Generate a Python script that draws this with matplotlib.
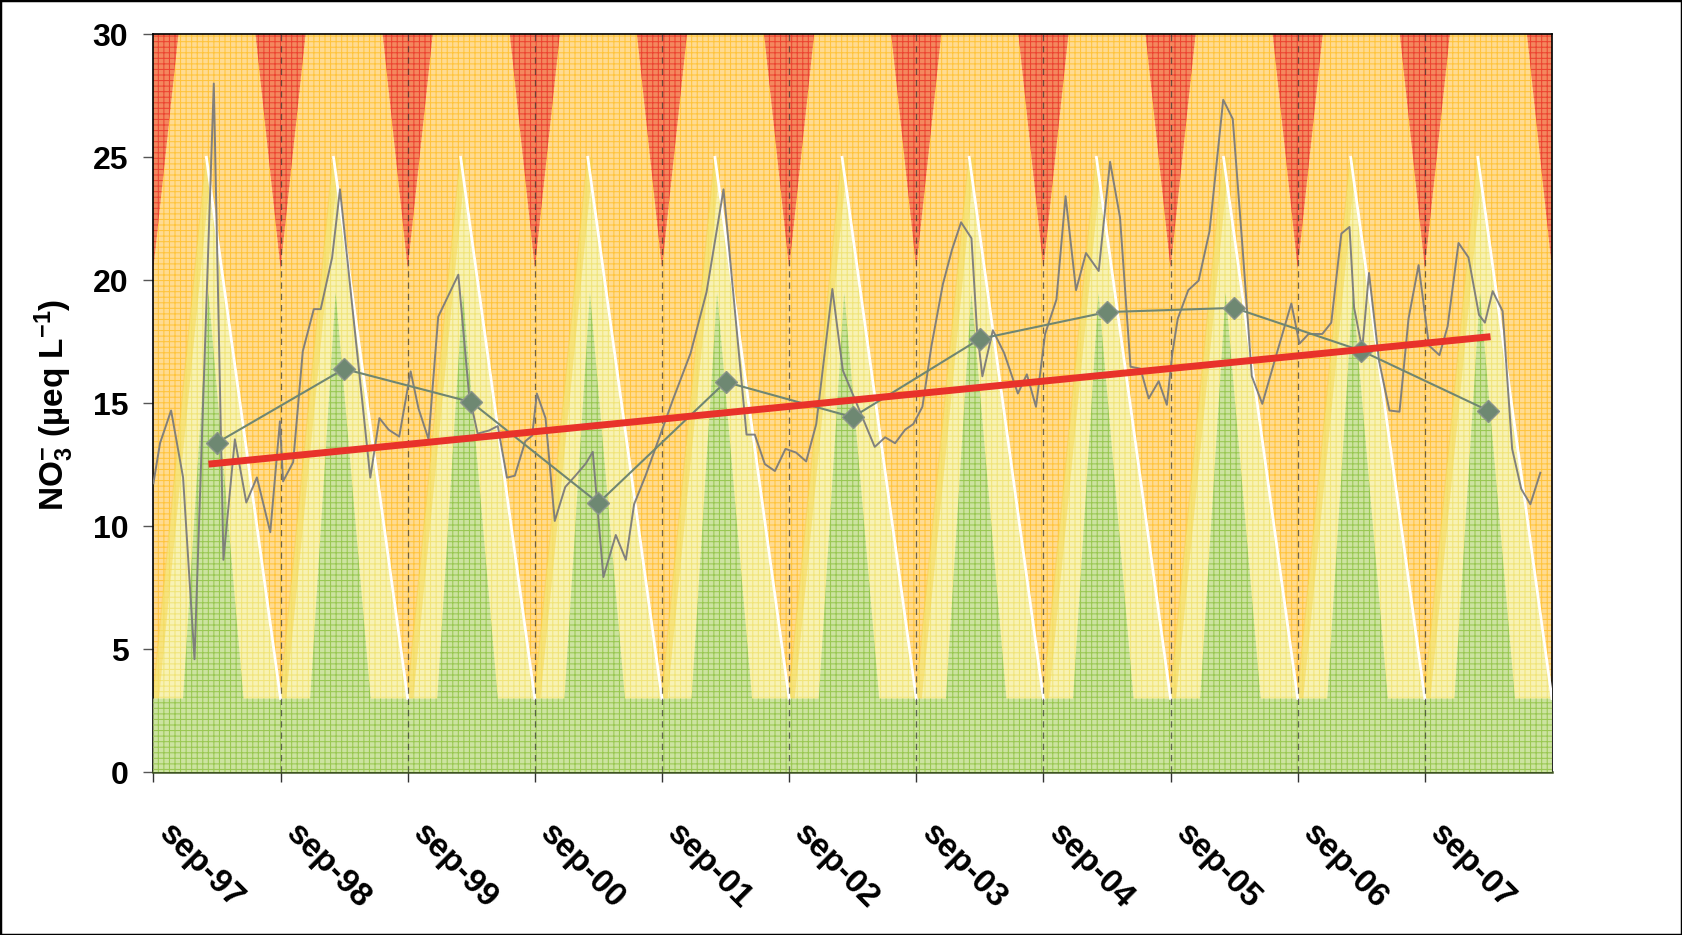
import numpy as np
import matplotlib
matplotlib.use("Agg")
import matplotlib.pyplot as plt
from matplotlib.patches import Rectangle
from matplotlib.transforms import ScaledTranslation

plt.rcParams['font.family'] = ['Liberation Sans', 'DejaVu Sans']
plt.rcParams['mathtext.fontset'] = 'custom'
plt.rcParams['mathtext.rm'] = 'Liberation Sans:bold'
plt.rcParams['mathtext.bf'] = 'Liberation Sans:bold'
plt.rcParams['mathtext.it'] = 'Liberation Sans:bold'
plt.rcParams['hatch.linewidth'] = 0.75

# x axis: months since sep-97
tick_months = [0, 12, 24, 36, 48, 60, 72, 84, 96, 108, 120]
tick_labels = ['sep-97', 'sep-98', 'sep-99', 'sep-00', 'sep-01', 'sep-02',
               'sep-03', 'sep-04', 'sep-05', 'sep-06', 'sep-07']
n_years = 11

# sampling dates (months since sep-97) and NO3- concentrations
sample_month = [0, 0.63, 1.67, 2.8, 3.88, 5.7, 6.61, 7.69, 8.77, 9.77, 11.03,
                11.94, 12.24, 13.19, 14.1, 15.14, 15.79, 16.87, 17.61, 20.47, 21.33,
                22.2, 23.2, 24.28, 25.02, 25.97, 26.88, 27.83, 28.78, 29.78, 30.6,
                31.7, 32.5, 33.37, 34.11, 35.1, 35.75, 36.19, 37.01, 37.88, 38.87,
                39.83, 40.82, 41.47, 42.47, 43.64, 44.59, 45.37, 46.45, 47.75, 49.05,
                50.7, 52.21, 53.81, 55.98, 56.76, 57.71, 58.66, 59.66, 60.66, 61.61,
                62.56, 64.08, 65.07, 66.5, 67.4, 68.08, 69.06, 70.0, 70.95, 71.72,
                72.58, 73.44, 74.51, 75.37, 76.23, 77.21, 77.73, 78.24, 79.23, 80.3,
                81.59, 82.44, 83.3, 84.16, 85.23, 86.09, 87.08, 88.02, 89.22, 90.29,
                91.23, 92.22, 93.16, 93.94, 94.88, 95.65, 96.17, 96.68, 97.67, 98.65,
                99.68, 100.97, 101.87, 102.81, 103.67, 104.66, 106.03, 107.4, 108.17, 109.03,
                110.32, 111.17, 112.12, 112.89, 113.32, 114.09, 114.73, 115.68, 116.66, 117.61,
                118.46, 119.41, 120.39, 121.38, 122.15, 123.18, 124.12, 125.11, 125.67, 126.4,
                127.34, 128.24, 129.1, 129.96, 130.9]
no3_values = [11.75, 13.39, 14.71, 11.99, 4.6, 28.0, 8.64, 13.54, 10.97, 11.99, 9.76,
              14.27, 11.83, 12.61, 17.12, 18.83, 18.83, 20.93, 23.7, 11.98, 14.4,
              13.93, 13.65, 16.3, 14.79, 13.54, 18.52, 19.37, 20.23, 15.4, 13.77,
              13.9, 14.08, 11.98, 12.06, 13.46, 13.69, 15.4, 14.4, 10.22, 11.6,
              12.06, 12.56, 13.03, 7.94, 9.65, 8.64, 10.9, 12.06, 13.62, 15.17,
              17.04, 19.53, 23.7, 13.73, 13.73, 12.53, 12.25, 13.15, 13.0, 12.64,
              14.16, 19.65, 16.34, 14.86, 13.93, 13.23, 13.62, 13.38, 13.93, 14.16,
              14.86, 17.35, 19.84, 21.24, 22.36, 21.71, 17.97, 16.1, 17.97, 17.04,
              15.4, 16.18, 14.86, 17.82, 19.22, 23.42, 19.6, 21.11, 20.38, 24.82,
              22.56, 16.49, 16.41, 15.2, 15.9, 14.94, 17.04, 18.44, 19.6, 19.99,
              22.0, 27.34, 26.56, 21.24, 16.1, 14.98, 17.04, 19.06, 17.43, 17.82,
              17.82, 18.28, 21.9, 22.17, 18.9, 17.2, 20.3, 16.72, 14.71, 14.66,
              18.44, 20.62, 17.35, 16.96, 18.13, 21.52, 20.93, 18.6, 18.28, 19.56,
              18.75, 13.15, 11.52, 10.9, 12.18]

# annual means (plotted mid hydrological year)
annual_month = [6, 18, 30, 42, 54, 66, 78, 90, 102, 114, 126]
annual_mean = [13.4, 16.4, 15.05, 10.95, 15.87, 14.44, 17.62, 18.71, 18.88, 17.14, 14.7]

# linear trend end points
trend_month = [5.2, 126.2]
trend_value = [12.53, 17.71]

# seasonal threshold bands, one cycle (months after september)
green_month = [0, 2.8, 5.2, 8.5, 12]
green_level = [3, 3, 19.5, 3, 3]
yellow_month = [0, 5.0, 12]
yellow_level = [3, 25, 3]
red_month = [0, 3, 9, 12]
red_level = [20.5, 32.6, 32.6, 20.5]

fig = plt.figure(figsize=(16.82, 9.35), dpi=100)
ax = fig.add_axes([0.0912, 0.1739, 0.8315, 0.7894])

xs = np.linspace(0, 12 * n_years, 12 * n_years * 20 + 1)
season = xs % 12
green = np.interp(season, green_month, green_level)
yellow = np.interp(season, yellow_month, yellow_level)
red = np.interp(season, red_month, red_level)

ax.fill_between(xs, 0, 31, facecolor='#FFDB92', edgecolor='#FFC43C',
                hatch='+++', linewidth=0, zorder=0)
ax.fill_between(xs, red, 31, facecolor='#F4875E', edgecolor='#EC4430',
                hatch='+++', linewidth=0, zorder=1)
ax.fill_between(xs, 0, yellow, facecolor='#F8F2B4', edgecolor='#F0E47A',
                hatch='+++', linewidth=0, zorder=2)
ax.fill_between(xs, 0, green, facecolor='#CCE3A0', edgecolor='#99C751',
                hatch='+++', linewidth=0, zorder=3)

for k in range(n_years):
    ax.plot(12 * k + np.array(yellow_month[:2]) + 0.2, yellow_level[:2],
            color='#F7D54A', lw=5, alpha=0.5, zorder=2.5, solid_capstyle='butt')
    ax.plot(12 * k + np.array(yellow_month[1:]), yellow_level[1:],
            color='white', lw=2, zorder=4)

ax.vlines(tick_months[1:], 0, 30, colors='#333333', linestyles=(0, (5, 4)),
          lw=0.9, alpha=0.7, zorder=4.5)

ax.plot(sample_month, no3_values, color='#7b7b7b', lw=1.4, alpha=0.95, zorder=5)
ax.plot(annual_month, annual_mean, color='#6f8672', lw=1.5, marker='D',
        markersize=11, markerfacecolor='#6e8872', markeredgecolor='#8a948a',
        zorder=6)
ax.plot(trend_month, trend_value, color='#E8322A', lw=5, zorder=7,
        solid_capstyle='butt')

ax.set_xlim(0, 12 * n_years)
ax.set_ylim(0, 30)
ax.set_yticks(range(0, 31, 5))
ax.tick_params(axis='y', length=7, width=1, color='#555555', pad=11,
               labelsize=23)
for lab in ax.get_yticklabels():
    lab.set_fontweight('bold')

ax.set_xticks(tick_months)
ax.set_xticklabels(tick_labels, rotation=-45, ha='left', va='top',
                   rotation_mode='anchor', fontsize=24, fontweight='bold')
ax.tick_params(axis='x', length=7, width=1, color='#333333', pad=26)
offset = ScaledTranslation(0.21, 0, fig.dpi_scale_trans)
for lab in ax.get_xticklabels():
    lab.set_transform(lab.get_transform() + offset)

for side in ['left', 'right', 'top']:
    ax.spines[side].set_color('black')
    ax.spines[side].set_linewidth(1.2)
ax.spines['bottom'].set_color('#3f5522')
ax.spines['bottom'].set_linewidth(1.8)

fig.text(0.032, 0.567, r'NO$_\mathbf{3}^\mathbf{-}$ (µeq L$^\mathbf{-1}$)',
         rotation=90, ha='center', va='center', fontsize=24, fontweight='bold')

fig.patches.append(Rectangle((0, 0), 1, 1, transform=fig.transFigure,
                             fill=False, edgecolor='black', linewidth=2.5))

fig.savefig('out.png', dpi=100)
